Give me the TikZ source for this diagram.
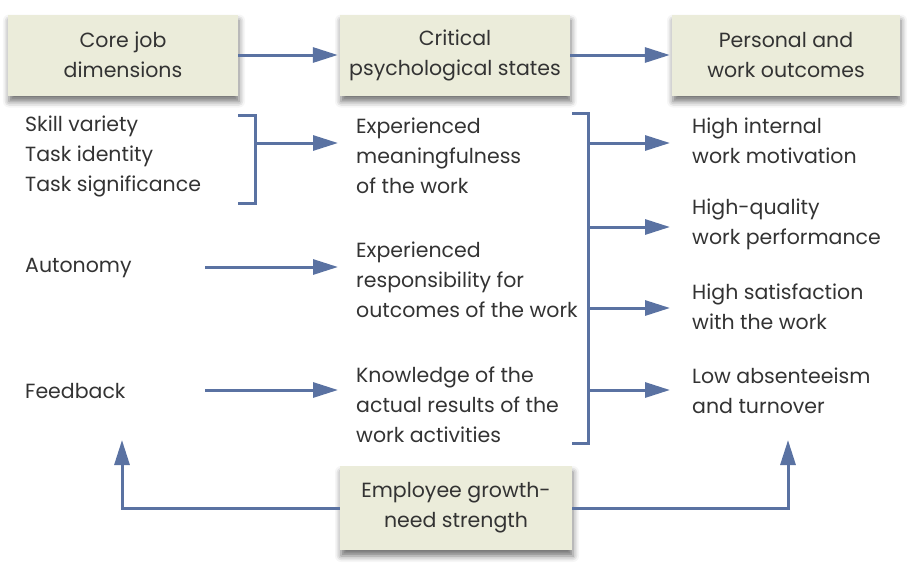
\documentclass[tikz,border=0pt]{standalone}
\usepackage{fontspec}
\setmainfont{Poppins}
\usetikzlibrary{arrows.meta,shadows.blur}
\definecolor{boxfill}{HTML}{EBECDA}
\definecolor{arrcol}{HTML}{5A72A2}
\definecolor{txt}{HTML}{333333}
\begin{document}
\begin{tikzpicture}[x=1pt,y=-1pt,
  every node/.style={text=txt,font=\fontsize{20.5}{30}\selectfont},
  hbox/.style={rectangle,fill=boxfill,minimum width=230pt,minimum height=81pt,align=center,inner sep=0pt,
    blur shadow={shadow xshift=1pt,shadow yshift=-6pt,shadow blur radius=6pt,shadow opacity=55}},
  lbl/.style={anchor=west,align=left,inner sep=0pt},
  conn/.style={draw=arrcol,line width=3pt},
  arr/.style={conn,-{Triangle[length=25pt,width=15pt]}}]
\useasboundingbox (0,0) rectangle (917,565);
% header boxes
\node[hbox] (h1) at (123,55) {Core job\\dimensions};
\node[hbox] (h2) at (455,55) {Critical\\psychological states};
\node[hbox,minimum width=228pt] (h3) at (786,55) {Personal and\\work outcomes};
\node[hbox,minimum width=232pt,minimum height=84pt] (gn) at (456,508) {Employee growth-\\need strength};
% left texts
\node[lbl] (skill) at (25,156) {Skill variety\\Task identity\\Task significance};
\node[lbl] (auto) at (25,268) {Autonomy};
\node[lbl] (feed) at (25,391) {Feedback};
% middle texts
\node[lbl] (mean) at (356,156) {Experienced\\meaningfulness\\of the work};
\node[lbl] (resp) at (356,280) {Experienced\\responsibility for\\outcomes of the work};
\node[lbl] (know) at (356,405) {Knowledge of the\\actual results of the\\work activities};
% right texts
\node[lbl] (mot) at (692,140.5) {High internal\\work motivation};
\node[lbl] (perf) at (692,224) {High-quality\\work performance};
\node[lbl] (sat) at (692,307) {High satisfaction\\with the work};
\node[lbl] (abs) at (692,390.5) {Low absenteeism\\and turnover};
% header arrows
\draw[arr] (h1.east) -- ([xshift=-2pt]h2.west);
\draw[arr] (h2.east) -- ([xshift=-2pt]h3.west);
% bracket 1
\coordinate (b1t) at (238,115);
\coordinate (b1b) at (238,203);
\coordinate (b1m) at (255,143);
\draw[conn] (b1t) -| (b1m) |- (b1b);
\draw[arr] (b1m) -- ([xshift=-18pt]mean.west |- b1m);
% single arrows
\coordinate (a1) at (205,267);
\coordinate (a2) at (205,390);
\draw[arr] (a1) -- ([xshift=-18pt]resp.west |- a1);
\draw[arr] (a2) -- ([xshift=-18pt]know.west |- a2);
% bracket 2
\coordinate (b2t) at (572,113);
\coordinate (b2b) at (572,443);
\coordinate (b2x) at (588,143);
\draw[conn] (b2t) -| (b2x) |- (b2b);
\foreach \n/\yy in {mot/143,perf/227,sat/308,abs/390}{
  \draw[arr] (588,\yy) -- ([xshift=-22pt]\n.west |- 0,\yy);
}
% bottom arrows
\coordinate (lu) at (122,440);
\coordinate (ru) at (788,440);
\draw[arr] (gn.west) -| (lu);
\draw[arr] (gn.east) -| (ru);
\end{tikzpicture}
\end{document}
